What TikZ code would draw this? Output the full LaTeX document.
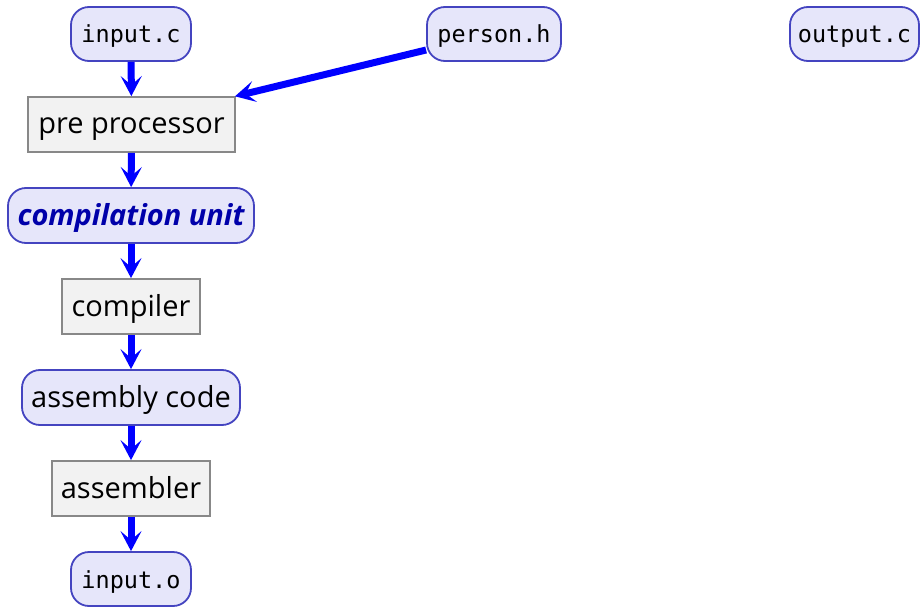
\documentclass[tikz,border=0pt]{standalone}
\usepackage{fontspec}
\setmainfont{Open Sans}
\newfontfamily\codefont{DejaVu Sans Mono}
\usetikzlibrary{arrows.meta}
\definecolor{filebg}{RGB}{230,230,250}
\definecolor{fileborder}{RGB}{68,68,192}
\definecolor{procbg}{RGB}{242,242,242}
\definecolor{procborder}{RGB}{136,136,136}
\definecolor{unitblue}{RGB}{0,0,170}
\begin{document}
\begin{tikzpicture}[x=1pt,y=-1pt,
  filenode/.style={draw=fileborder, fill=filebg, line width=1.8pt, rounded corners=18pt,
    inner sep=0pt, font=\codefont\fontsize{23.5}{28}\selectfont, minimum height=54pt,
    text height=23pt, text depth=5pt},
  bigtext/.style={font=\fontsize{29}{34}\selectfont, text height=23pt, text depth=4pt},
  procnode/.style={draw=procborder, fill=procbg, line width=1.8pt,
    inner sep=0pt, bigtext, minimum height=55pt},
  flow/.style={draw={rgb,255:red,0;green,0;blue,255}, line width=7pt,
    -{Stealth[length=20pt,width=21pt,inset=9pt]}}]
\useasboundingbox (0,0) rectangle (921,607);
\node[filenode, minimum width=120pt] (inc) at (131,34) {input.c};
\node[filenode, minimum width=134pt] (ph) at (494,34) {person.h};
\node[filenode, minimum width=129pt] (outc) at (854.5,34) {output.c};
\node[procnode, minimum width=207pt] (pre) at (131.5,124.5) {pre processor};
\node[filenode, minimum width=246pt, minimum height=55pt, bigtext, font=\fontsize{29}{34}\selectfont\bfseries\itshape, text=unitblue] (cu) at (131,215.5) {compilation unit};
\node[procnode, minimum width=138pt] (comp) at (131,306.5) {compiler};
\node[filenode, minimum width=218pt, minimum height=55pt, bigtext] (asmc) at (131,397.5) {assembly code};
\node[procnode, minimum width=158pt] (asm) at (131,488.5) {assembler};
\node[filenode, minimum width=120pt] (ino) at (131,579) {input.o};
\draw[flow] (inc) -- (pre);
\draw[flow] (pre) -- (cu);
\draw[flow] (cu) -- (comp);
\draw[flow] (comp) -- (asmc);
\draw[flow] (asmc) -- (asm);
\draw[flow] (asm) -- (ino);
\draw[flow, shorten >=-1pt] (ph.west |- 0,50) -- (pre.north east);
\end{tikzpicture}
\end{document}
